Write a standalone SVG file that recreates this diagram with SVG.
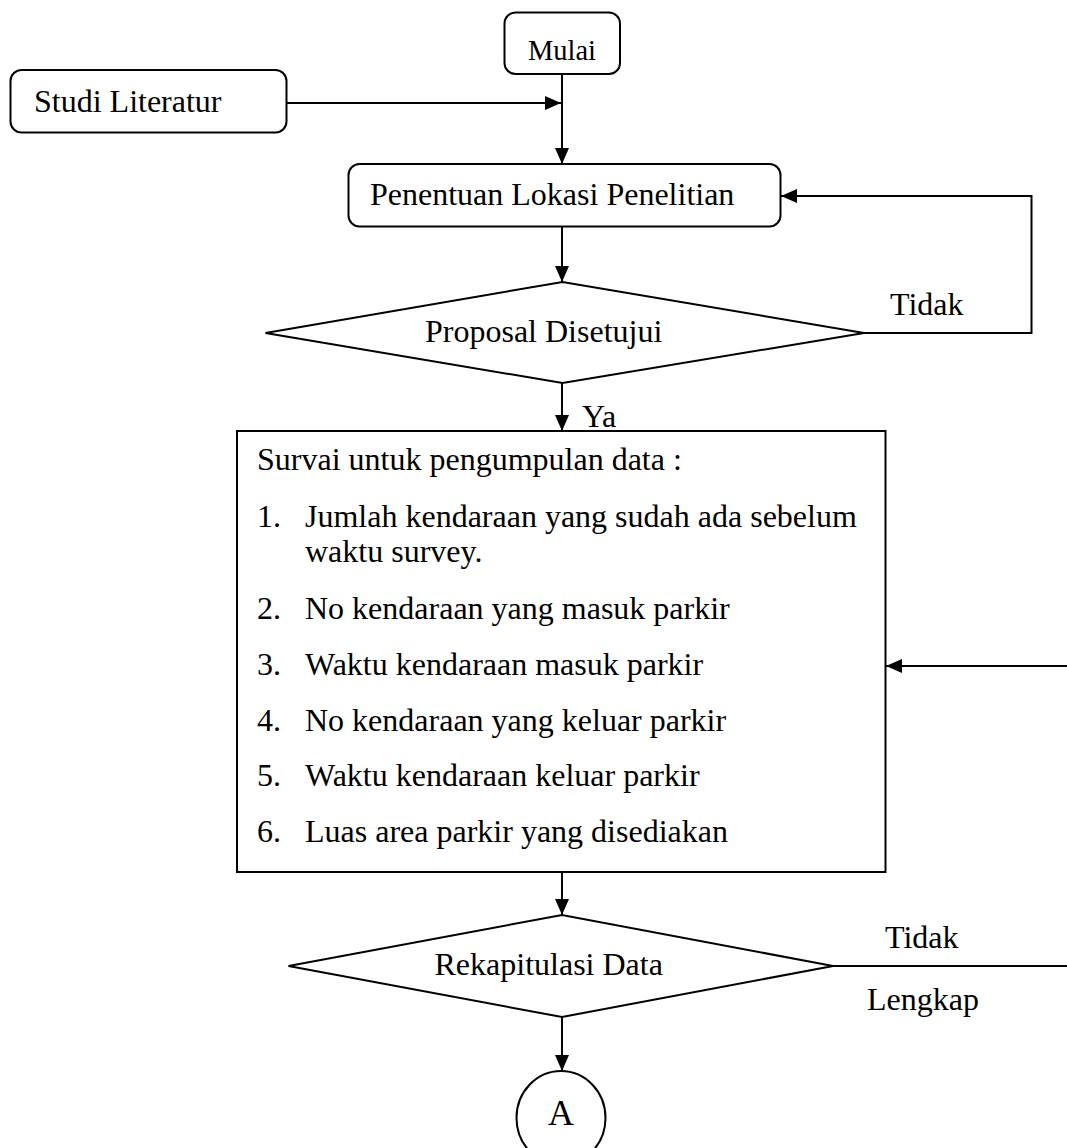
<svg xmlns="http://www.w3.org/2000/svg" width="1067" height="1148" viewBox="0 0 1067 1148">
<defs>
<style>
.t{font-family:"Liberation Serif","Times New Roman",serif;font-size:32px;fill:#000}
.box{fill:#fff;stroke:#000;stroke-width:2}
.ln{fill:none;stroke:#000;stroke-width:2}
</style>
<marker id="ah" markerUnits="userSpaceOnUse" markerWidth="16" markerHeight="14" refX="16" refY="7" orient="auto">
<path d="M0,0 L16,7 L0,14 Z" fill="#000"/>
</marker>
</defs>
<rect width="1067" height="1148" fill="#fff"/>
<g id="connectors">
<line class="ln" x1="287" y1="103" x2="561" y2="103" marker-end="url(#ah)"/>
<line class="ln" x1="562" y1="74" x2="562" y2="164" marker-end="url(#ah)"/>
<line class="ln" x1="562" y1="227" x2="562" y2="282" marker-end="url(#ah)"/>
<polyline class="ln" points="864,333 1031.5,333 1031.5,196 781,196" marker-end="url(#ah)"/>
<line class="ln" x1="562" y1="383" x2="562" y2="431" marker-end="url(#ah)"/>
<line class="ln" x1="562" y1="872" x2="562" y2="915" marker-end="url(#ah)"/>
<line class="ln" x1="833" y1="966" x2="1067" y2="966"/>
<line class="ln" x1="1067" y1="666" x2="886" y2="666" marker-end="url(#ah)"/>
<line class="ln" x1="562" y1="1017" x2="562" y2="1071" marker-end="url(#ah)"/>
<text class="t" x="890" y="315">Tidak</text>
<text class="t" x="582" y="427">Ya</text>
<text class="t" x="885" y="948">Tidak</text>
<text class="t" x="867" y="1010">Lengkap</text>
</g>
<g id="mulai">
<rect class="box" x="504.5" y="12.5" width="115.5" height="61.5" rx="11"/>
<text class="t" x="562" y="60" text-anchor="middle" style="font-size:28.5px">Mulai</text>
</g>
<g id="studi">
<rect class="box" x="10.5" y="70" width="276" height="62.5" rx="11"/>
<text class="t" x="34" y="112">Studi Literatur</text>
</g>
<g id="penentuan">
<rect class="box" x="348.5" y="164" width="432" height="62.5" rx="11"/>
<text class="t" x="370" y="205">Penentuan Lokasi Penelitian</text>
</g>
<g id="proposal">
<polygon class="box" points="265.5,333 562.5,282 864,333 562.5,383"/>
<text class="t" x="425" y="342">Proposal Disetujui</text>
</g>
<g id="survai">
<rect class="box" x="237" y="431" width="648.5" height="441"/>
<text class="t" x="257" y="470">Survai untuk pengumpulan data :</text>
<text class="t" x="257" y="527">1.</text>
<text class="t" x="305" y="527">Jumlah kendaraan yang sudah ada sebelum</text>
<text class="t" x="305" y="562">waktu survey.</text>
<text class="t" x="257" y="619">2.</text>
<text class="t" x="305" y="619">No kendaraan yang masuk parkir</text>
<text class="t" x="257" y="675">3.</text>
<text class="t" x="305" y="675">Waktu kendaraan masuk parkir</text>
<text class="t" x="257" y="731">4.</text>
<text class="t" x="305" y="731">No kendaraan yang keluar parkir</text>
<text class="t" x="257" y="786">5.</text>
<text class="t" x="305" y="786">Waktu kendaraan keluar parkir</text>
<text class="t" x="257" y="842">6.</text>
<text class="t" x="305" y="842">Luas area parkir yang disediakan</text>
</g>
<g id="rekapitulasi">
<polygon class="box" points="288.5,966 562,915 833,966 562,1017"/>
<text class="t" x="434.5" y="975">Rekapitulasi Data</text>
</g>
<g id="a">
<ellipse class="box" cx="561" cy="1118" rx="44.5" ry="47"/>
<text class="t" x="561" y="1125" text-anchor="middle" style="font-size:36px">A</text>
</g>
</svg>
